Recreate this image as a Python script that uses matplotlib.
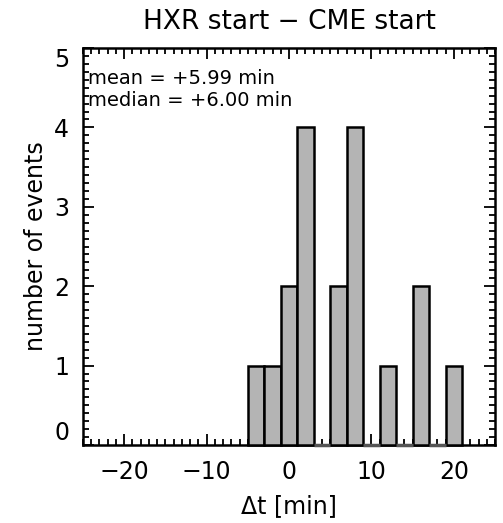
import matplotlib
matplotlib.use("Agg")
import matplotlib.pyplot as plt
import numpy as np
from matplotlib.ticker import MultipleLocator

# Data
bin_centers = [-4, -2, 0, 2, 4, 6, 8, 10, 12, 14, 16, 18, 20]
counts = [1, 1, 2, 4, 0, 2, 4, 0, 1, 0, 2, 0, 1]
bin_width = 2
title = "HXR start \u2212 CME start"
xlabel = "\u0394t [min]"
ylabel = "number of events"
stats_text = ["mean = +5.99 min", "median = +6.00 min"]

plt.rcParams['font.family'] = ['DejaVu Sans']
W, H = 503, 523
fig = plt.figure(figsize=(W / 100, H / 100), dpi=100)
L, R, T, B = 83, 495, 48, 445
ax = fig.add_axes([L / W, 1 - B / H, (R - L) / W, (B - T) / H])

nz_c = [c for c, n in zip(bin_centers, counts) if n > 0]
nz_n = [n for n in counts if n > 0]
z_c = [c for c, n in zip(bin_centers, counts) if n == 0]

ax.bar(nz_c, nz_n, width=bin_width, color='#b4b4b4', edgecolor='black',
       linewidth=1.8, zorder=3, clip_on=False)
for c in z_c:
    ax.plot([c - bin_width / 2, c + bin_width / 2], [0, 0], color='#555555',
            lw=2.5, zorder=4, solid_capstyle='butt', clip_on=False)

ax.set_xlim(-25, 25)
ax.set_ylim(0, 5)
ax.set_xticks([-20, -10, 0, 10, 20])
ax.set_xticklabels(["\u221220", "\u221210", "0", "10", "20"])
ax.xaxis.set_minor_locator(MultipleLocator(1))
ax.set_yticks([0, 1, 2, 3, 4, 5])
ax.yaxis.set_minor_locator(MultipleLocator(0.1))
ax.tick_params(which='both', direction='in', top=True, right=True, labelsize=17,
               width=1.3, color='black')
ax.tick_params(which='major', length=8)
ax.tick_params(which='minor', length=4)
ax.tick_params(axis='x', pad=11)
ax.tick_params(axis='y', pad=10)
for sp in ax.spines.values():
    sp.set_linewidth(1.8)

labs = ax.get_yticklabels()
labs[0].set_verticalalignment('bottom')
labs[-1].set_verticalalignment('top')

ax.set_title(title, fontsize=19, pad=14)
ax.set_xlabel(xlabel, fontsize=17, labelpad=7)
ax.set_ylabel(ylabel, fontsize=17, labelpad=4)

ax.text(0.012, 0.924, stats_text[0], transform=ax.transAxes, fontsize=14,
        va='center', ha='left')
ax.text(0.012, 0.869, stats_text[1], transform=ax.transAxes, fontsize=14,
        va='center', ha='left')

fig.savefig("out.png", dpi=100)
